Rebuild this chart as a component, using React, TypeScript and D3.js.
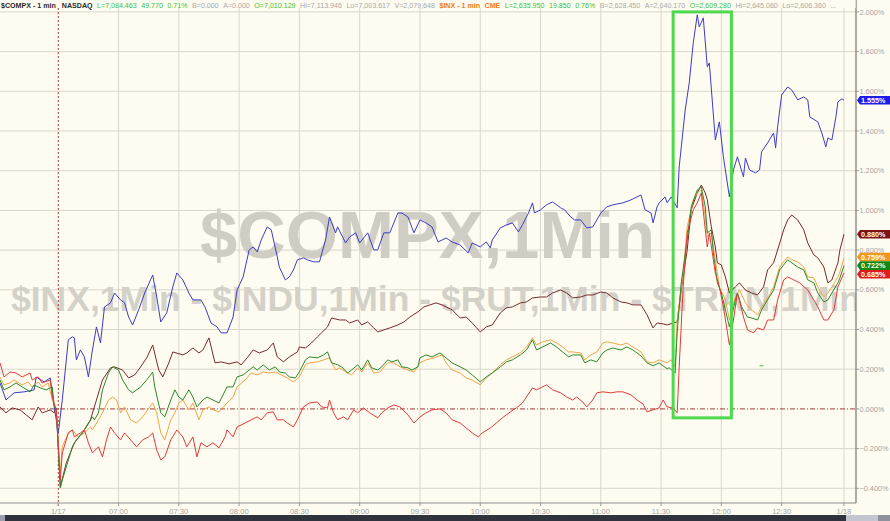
import React from "react";
import * as d3 from "d3";

const W = 890;
const H = 521;

// time in minutes since 06:00
const TIME_TICKS = [30, 60, 90, 120, 150, 180, 210, 240, 270, 300, 330, 360, 390, 421];
const TIME_LABELS = ["1/17", "07:00", "07:30", "08:00", "08:30", "09:00", "09:30", "10:00", "10:30", "11:00", "11:30", "12:00", "12:30", "1/18"];
const Y_TICKS = [-0.4, -0.2, 0, 0.2, 0.4, 0.6, 0.8, 1.0, 1.2, 1.4, 1.6, 1.8, 2.0];

const COMPX: [number, number][] = [[1,0.131],[4,0.045],[8,0.081],[13,0.086],[18,0.096],[19,0.161],[23,0.136],[26,0.156],[28,0.010],[30,-0.121],[32,0.045],[35,0.348],[37,0.363],[38,0.358],[39,0.247],[41,0.297],[43,0.262],[45,0.161],[47,0.297],[49,0.413],[51,0.332],[53,0.514],[56,0.534],[58,0.584],[61,0.549],[63,0.534],[65,0.463],[67,0.423],[70,0.499],[73,0.584],[77,0.675],[79,0.564],[81,0.438],[84,0.484],[87,0.615],[89,0.685],[92,0.650],[95,0.584],[97,0.549],[101,0.549],[103,0.514],[106,0.433],[109,0.413],[111,0.383],[114,0.383],[117,0.463],[119,0.599],[122,0.665],[125,0.801],[127,0.816],[129,0.791],[131,0.851],[134,0.917],[136,0.902],[139,0.766],[140,0.715],[143,0.650],[145,0.665],[147,0.700],[149,0.751],[152,0.761],[154,0.751],[157,0.741],[160,0.741],[163,0.851],[165,0.967],[168,0.887],[169,0.917],[173,0.836],[175,0.866],[178,0.887],[180,0.836],[184,0.887],[187,0.801],[189,0.801],[192,0.887],[195,0.887],[199,0.987],[201,0.987],[204,0.967],[207,0.887],[210,0.952],[213,0.937],[216,0.917],[219,0.841],[223,0.861],[226,0.841],[230,0.826],[234,0.786],[236,0.836],[240,0.816],[243,0.841],[245,0.811],[246,0.851],[250,0.912],[253,0.927],[256,0.937],[259,0.892],[261,0.927],[264,0.987],[266,1.038],[267,0.987],[270,1.003],[273,1.028],[276,1.043],[280,1.013],[282,1.003],[285,0.967],[287,0.952],[290,0.952],[293,0.912],[296,0.917],[300,0.987],[303,1.018],[306,1.028],[311,1.038],[315,1.053],[318,1.068],[320,1.078],[322,1.003],[325,0.987],[326,0.937],[328,1.018],[329,1.038],[332,1.068],[333,1.038],[335,1.068],[338,1.013],[339,1.219],[342,1.506],[344,1.642],[346,1.844],[348,1.985],[349,1.924],[351,1.970],[353,1.723],[354,1.743],[357,1.355],[359,1.446],[361,1.270],[364,1.068],[366,1.204],[368,1.270],[371,1.169],[372,1.264],[374,1.204],[377,1.189],[379,1.204],[380,1.295],[383,1.340],[386,1.390],[387,1.315],[388,1.421],[390,1.582],[393,1.622],[395,1.607],[398,1.557],[401,1.572],[403,1.557],[404,1.471],[408,1.446],[410,1.390],[412,1.320],[413,1.365],[415,1.355],[417,1.471],[418,1.547],[420,1.562],[421,1.555]];

const INDU: [number, number][] = [[1,0.010],[4,-0.020],[7,0.005],[11,-0.005],[14,-0.030],[17,-0.055],[20,0.010],[22,-0.020],[26,-0.005],[28,-0.020],[29,0.005],[31,-0.393],[34,-0.272],[38,-0.171],[42,-0.121],[46,-0.055],[49,0.045],[52,0.146],[56,0.207],[58,0.212],[62,0.196],[65,0.156],[68,0.171],[71,0.212],[74,0.257],[77,0.322],[80,0.196],[82,0.161],[85,0.232],[87,0.287],[92,0.272],[94,0.282],[97,0.307],[100,0.282],[102,0.297],[105,0.358],[108,0.232],[111,0.237],[115,0.227],[119,0.237],[121,0.222],[124,0.257],[127,0.297],[130,0.282],[134,0.297],[137,0.332],[139,0.262],[142,0.237],[145,0.262],[149,0.287],[150,0.312],[153,0.307],[156,0.332],[159,0.363],[161,0.383],[164,0.413],[166,0.458],[170,0.448],[173,0.448],[175,0.433],[179,0.448],[181,0.423],[184,0.438],[187,0.408],[189,0.388],[192,0.398],[195,0.408],[199,0.423],[202,0.438],[205,0.463],[209,0.489],[212,0.514],[215,0.524],[218,0.534],[221,0.524],[226,0.499],[230,0.458],[233,0.463],[236,0.433],[240,0.388],[243,0.413],[246,0.423],[250,0.484],[253,0.509],[256,0.514],[260,0.534],[263,0.539],[266,0.559],[270,0.564],[273,0.564],[276,0.584],[280,0.599],[283,0.584],[286,0.559],[290,0.564],[293,0.574],[296,0.574],[300,0.589],[303,0.584],[306,0.559],[310,0.539],[313,0.534],[316,0.524],[320,0.524],[323,0.474],[326,0.408],[328,0.433],[331,0.428],[333,0.423],[336,0.433],[338,0.438],[340,0.599],[343,0.801],[345,1.003],[348,1.088],[350,1.128],[352,1.088],[353,1.053],[355,0.917],[357,0.816],[358,0.736],[360,0.725],[362,0.665],[364,0.584],[367,0.615],[369,0.635],[372,0.599],[375,0.584],[378,0.574],[381,0.615],[383,0.700],[386,0.736],[388,0.801],[391,0.902],[393,0.952],[395,0.977],[398,0.952],[401,0.902],[403,0.836],[406,0.776],[408,0.761],[411,0.715],[413,0.635],[415,0.650],[418,0.736],[419,0.801],[421,0.880]];

const INX: [number, number][] = [[1,0.161],[3,0.121],[6,0.131],[8,0.146],[12,0.121],[15,0.136],[17,0.111],[20,0.136],[22,0.111],[25,0.131],[27,0.045],[29,-0.005],[31,-0.322],[32,-0.191],[35,-0.121],[37,-0.106],[40,-0.141],[43,-0.121],[46,-0.091],[47,-0.106],[50,-0.055],[52,-0.020],[55,0.045],[57,0.060],[59,0.045],[61,-0.020],[63,0.010],[66,-0.055],[69,-0.071],[72,-0.040],[77,0.030],[79,-0.020],[81,-0.121],[83,-0.156],[86,-0.055],[88,-0.020],[90,0.030],[92,0.045],[95,-0.005],[97,0.030],[100,-0.055],[102,-0.005],[105,0.010],[107,-0.005],[110,-0.015],[114,0.030],[117,0.060],[119,0.111],[123,0.146],[126,0.181],[129,0.171],[132,0.186],[135,0.181],[138,0.186],[141,0.171],[144,0.156],[147,0.136],[150,0.161],[153,0.222],[155,0.232],[159,0.237],[162,0.247],[165,0.257],[168,0.196],[170,0.207],[174,0.181],[176,0.171],[179,0.207],[181,0.186],[184,0.232],[187,0.181],[190,0.186],[194,0.232],[197,0.232],[200,0.212],[204,0.196],[207,0.186],[210,0.232],[213,0.247],[217,0.257],[221,0.272],[223,0.232],[226,0.196],[230,0.181],[233,0.156],[236,0.146],[240,0.121],[243,0.156],[246,0.181],[250,0.222],[253,0.247],[256,0.262],[260,0.282],[263,0.312],[266,0.358],[268,0.322],[271,0.338],[275,0.348],[278,0.332],[281,0.312],[284,0.287],[286,0.287],[290,0.282],[292,0.247],[295,0.272],[298,0.287],[301,0.332],[303,0.338],[306,0.332],[310,0.322],[313,0.332],[316,0.312],[320,0.287],[323,0.237],[326,0.232],[329,0.247],[333,0.232],[335,0.247],[337,0.212],[338,0.448],[341,0.685],[343,0.917],[346,1.053],[348,1.088],[350,1.103],[352,0.967],[353,0.867],[355,0.887],[357,0.751],[359,0.615],[362,0.549],[364,0.448],[367,0.564],[369,0.599],[372,0.534],[375,0.499],[378,0.474],[380,0.514],[383,0.559],[386,0.615],[389,0.715],[393,0.766],[395,0.751],[398,0.741],[401,0.715],[403,0.665],[406,0.660],[408,0.615],[411,0.564],[413,0.584],[415,0.615],[418,0.665],[419,0.690],[421,0.759]];

const RUT: [number, number][] = [[1,0.146],[3,0.096],[6,0.111],[9,0.131],[12,0.111],[16,0.086],[18,0.121],[21,0.106],[24,0.096],[27,0.111],[28,0.010],[29,-0.005],[31,-0.398],[32,-0.358],[34,-0.292],[37,-0.191],[39,-0.156],[42,-0.121],[44,-0.091],[47,-0.040],[48,-0.055],[50,-0.020],[52,0.096],[55,0.181],[57,0.212],[60,0.196],[62,0.146],[65,0.096],[67,0.081],[71,0.111],[74,0.146],[77,0.186],[78,0.111],[81,-0.020],[83,-0.040],[86,0.045],[88,0.096],[90,0.060],[92,0.045],[95,0.096],[97,0.060],[99,0.010],[102,0.045],[104,0.060],[107,0.045],[110,0.030],[114,0.111],[117,0.111],[119,0.161],[122,0.171],[125,0.196],[127,0.212],[129,0.196],[132,0.222],[135,0.196],[138,0.212],[140,0.186],[143,0.181],[145,0.161],[148,0.156],[150,0.186],[153,0.247],[155,0.262],[159,0.257],[162,0.272],[164,0.287],[166,0.232],[169,0.222],[171,0.212],[174,0.181],[176,0.196],[179,0.222],[181,0.196],[184,0.247],[186,0.207],[189,0.196],[191,0.212],[194,0.247],[196,0.237],[199,0.247],[201,0.212],[204,0.207],[206,0.196],[209,0.212],[210,0.257],[213,0.272],[216,0.262],[220,0.282],[223,0.257],[226,0.232],[230,0.212],[233,0.196],[236,0.171],[240,0.136],[243,0.161],[246,0.181],[250,0.212],[253,0.237],[256,0.247],[260,0.272],[263,0.297],[266,0.348],[268,0.297],[271,0.312],[275,0.332],[278,0.312],[281,0.287],[284,0.262],[286,0.272],[290,0.272],[292,0.232],[295,0.247],[298,0.237],[301,0.282],[303,0.297],[306,0.307],[310,0.297],[313,0.312],[316,0.297],[320,0.267],[323,0.232],[326,0.217],[329,0.232],[333,0.202],[334,0.207],[337,0.181],[338,0.383],[340,0.635],[343,0.851],[345,1.018],[348,1.103],[350,1.118],[352,1.018],[353,0.887],[355,0.902],[356,0.786],[358,0.635],[360,0.584],[362,0.499],[364,0.413],[367,0.549],[368,0.584],[370,0.514],[373,0.463],[375,0.458],[378,0.448],[380,0.499],[383,0.549],[386,0.599],[389,0.700],[393,0.751],[395,0.736],[398,0.715],[401,0.700],[403,0.650],[406,0.635],[408,0.584],[411,0.539],[413,0.549],[415,0.584],[418,0.635],[419,0.660],[421,0.722]];

const TRAN: [number, number][] = [[1,0.232],[3,0.161],[6,0.186],[9,0.181],[12,0.161],[16,0.181],[17,0.146],[20,0.161],[22,0.131],[26,0.146],[27,0.060],[29,-0.005],[31,-0.358],[32,-0.222],[35,-0.121],[37,-0.106],[38,-0.141],[41,-0.121],[43,-0.106],[45,-0.171],[47,-0.222],[50,-0.191],[52,-0.242],[54,-0.156],[56,-0.091],[58,-0.121],[61,-0.156],[63,-0.121],[66,-0.156],[69,-0.191],[72,-0.156],[75,-0.141],[77,-0.121],[79,-0.207],[81,-0.257],[83,-0.242],[86,-0.156],[89,-0.106],[92,-0.141],[94,-0.191],[97,-0.141],[99,-0.242],[101,-0.171],[104,-0.191],[107,-0.171],[110,-0.196],[113,-0.141],[114,-0.106],[117,-0.141],[119,-0.091],[123,-0.071],[126,-0.055],[129,-0.040],[131,-0.055],[134,-0.020],[137,-0.015],[139,-0.055],[142,-0.055],[144,-0.071],[147,-0.091],[149,-0.055],[152,0.010],[155,0.030],[159,0.035],[161,0.010],[164,0.005],[165,0.045],[167,-0.020],[169,-0.055],[172,-0.040],[174,-0.055],[177,-0.005],[179,-0.020],[182,0.005],[185,-0.020],[189,-0.045],[191,-0.020],[194,0.005],[197,0.020],[200,0.010],[204,-0.030],[207,-0.071],[210,-0.040],[213,-0.020],[216,-0.005],[220,0.000],[223,-0.020],[226,-0.055],[230,-0.071],[233,-0.096],[236,-0.121],[239,-0.141],[241,-0.121],[245,-0.096],[248,-0.071],[251,-0.045],[255,-0.015],[258,0.005],[261,0.030],[263,0.060],[266,0.106],[268,0.096],[271,0.111],[273,0.121],[276,0.096],[280,0.081],[283,0.060],[286,0.045],[288,0.060],[291,0.035],[293,0.010],[296,0.045],[298,0.081],[301,0.086],[305,0.081],[308,0.086],[311,0.086],[315,0.071],[318,0.045],[321,0.025],[323,-0.015],[326,-0.005],[329,0.005],[331,0.045],[333,0.010],[336,0.005],[338,-0.020],[339,0.212],[341,0.615],[343,0.887],[346,1.003],[348,1.038],[350,1.088],[352,0.902],[353,0.816],[354,0.887],[357,0.685],[359,0.615],[361,0.514],[364,0.322],[366,0.448],[368,0.584],[369,0.549],[371,0.463],[373,0.398],[376,0.383],[378,0.408],[381,0.398],[383,0.448],[386,0.448],[388,0.549],[391,0.650],[393,0.665],[396,0.650],[399,0.635],[403,0.599],[406,0.549],[408,0.514],[411,0.448],[413,0.448],[416,0.499],[418,0.615],[421,0.685]];

const SERIES_DATA = [COMPX, INDU, INX, RUT, TRAN];
const SERIES_LAST = [1.555, 0.880, 0.759, 0.722, 0.685];
const SERIES_LINE_COLORS = ["#3c3cc8", "#7a2a2a", "#f0a444", "#2a8a2a", "#e23a3a"];
const SERIES_TAG_COLORS = ["#1c1ce8", "#7c1414", "#f3961c", "#128a12", "#e01c1c"];

// highlight box: time range and value range
const HIGHLIGHT_T = [336, 365];
const HIGHLIGHT_V = [-0.045, 2.0];
const MARKER: [number, number] = [380, 0.217];

const HEADER_TEXT = ["$COMPX - 1 min", "NASDAQ", "L=7,084.463", "49.770", "0.71%", "B=0.000", "A=0.000", "O=7,010.129", "Hi=7,113.946", "Lo=7,003.617", "V=2,079,648", "$INX - 1 min", "CME", "L=2,635.950", "19.850", "0.76%", "B=2,628.450", "A=2,640.170", "O=2,609.280", "Hi=2,645.060", "Lo=2,606.360", "..."];
const HEADER_KIND = ["t1", "t1", "up", "up", "up", "n", "n", "up", "n", "n", "n", "t2", "t2", "up", "up", "up", "n", "n", "up", "n", "n", "n"];

const KIND_COLOR: Record<string, string> = { t1: "#2a2a2a", t2: "#f07a1a", up: "#3cc23c", n: "#a8a8a8" };

export default function App() {
  const plotRight = 856;
  const plotTop = 8;
  const axisY = 503;

  const x = d3.scaleLinear().domain([1, 427]).range([0, 856]);
  const y = d3.scaleLinear().domain([-0.474, 2.06]).range([503, 0]);

  const line = d3
    .line<[number, number]>()
    .x((d) => x(d[0]))
    .y((d) => y(d[1]));

  // label layout with group centering
  const h = 8.6;
  const items = SERIES_LAST.map((v, i) => ({ i, y0: y(v) })).sort((a, b) => a.y0 - b.y0);
  let groups: { items: typeof items; c: number }[] = items.map((it) => ({ items: [it], c: it.y0 }));
  let changed = true;
  while (changed) {
    changed = false;
    for (let k = 0; k < groups.length - 1; k++) {
      const a = groups[k];
      const b = groups[k + 1];
      if (a.c + (a.items.length * h) / 2 > b.c - (b.items.length * h) / 2) {
        const merged = a.items.concat(b.items);
        const c = d3.mean(merged, (m) => m.y0) as number;
        groups.splice(k, 2, { items: merged, c });
        changed = true;
        break;
      }
    }
  }
  const tagY: number[] = [];
  groups.forEach((g) => {
    g.items.forEach((it, k) => {
      tagY[it.i] = g.c - ((g.items.length - 1) * h) / 2 + k * h;
    });
  });

  const fmt = d3.format(".3f");
  const gridColor = "#d9d7cc";

  return (
    <svg
      width={W}
      height={H}
      style={{ position: "absolute", left: 0, top: 0, background: "#fefcf1", fontFamily: "Liberation Sans, Arial, sans-serif" }}
    >
      <defs>
        <clipPath id="plotclip">
          <rect x={0} y={plotTop} width={plotRight} height={axisY - plotTop} />
        </clipPath>
      </defs>
      <rect x={0} y={0} width={W} height={H} fill="#fefcf1" />

      {/* horizontal grid */}
      {Y_TICKS.map((v) =>
        v === 0 ? null : (
          <line key={"h" + v} x1={0} x2={plotRight} y1={y(v)} y2={y(v)} stroke={gridColor} strokeWidth={1} />
        )
      )}
      {/* vertical grid */}
      {TIME_TICKS.map((t, i) =>
        i === 0 ? null : (
          <line key={"v" + t} x1={x(t)} x2={x(t)} y1={plotTop} y2={axisY} stroke={gridColor} strokeWidth={1} />
        )
      )}

      {/* watermarks */}
      <g clipPath="url(#plotclip)">
        <text x={200} y={258} fontSize={67} fontWeight="bold" fill="#cfcdc4" textLength={455} lengthAdjust="spacingAndGlyphs">
          $COMPX,1Min
        </text>
        <text x={11} y={311} fontSize={35} fontWeight="bold" fill="#d3d1c8" textLength={850} lengthAdjust="spacingAndGlyphs">
          $INX,1Min - $INDU,1Min - $RUT,1Min - $TRAN,1Min
        </text>
      </g>

      {/* zero line and session line */}
      <line x1={0} x2={plotRight} y1={y(0)} y2={y(0)} stroke="#a5383a" strokeWidth={1} strokeDasharray="5,2,1,2" />
      <line x1={x(TIME_TICKS[0])} x2={x(TIME_TICKS[0])} y1={plotTop} y2={axisY + 4} stroke="#b03a3a" strokeWidth={1} strokeDasharray="2,2" />

      {/* series */}
      <g clipPath="url(#plotclip)">
        {SERIES_DATA.map((s, i) => (
          <path key={i} d={line(s) || ""} fill="none" stroke={SERIES_LINE_COLORS[i]} strokeWidth={1} strokeLinejoin="round" />
        ))}
        <line x1={x(MARKER[0]) - 2} x2={x(MARKER[0]) + 2} y1={y(MARKER[1])} y2={y(MARKER[1])} stroke="#3cc23c" strokeWidth={1} />
      </g>

      {/* highlight box */}
      <rect
        x={x(HIGHLIGHT_T[0])}
        y={y(HIGHLIGHT_V[1])}
        width={x(HIGHLIGHT_T[1]) - x(HIGHLIGHT_T[0])}
        height={y(HIGHLIGHT_V[0]) - y(HIGHLIGHT_V[1])}
        fill="none"
        stroke="#4ed94e"
        strokeWidth={3}
      />

      {/* axes */}
      <line x1={plotRight} x2={plotRight} y1={0} y2={axisY} stroke="#5a5a5a" strokeWidth={1} />
      <line x1={0} x2={plotRight} y1={axisY} y2={axisY} stroke="#8a8a8a" strokeWidth={1} />
      {Y_TICKS.map((v) => (
        <g key={"yt" + v}>
          <line x1={plotRight} x2={plotRight + 3} y1={y(v)} y2={y(v)} stroke="#9a9a9a" />
          <text x={plotRight + 3.5} y={y(v) + 2.6} fontSize={7.3} fill="#a3a3a3">
            {fmt(v) + "%"}
          </text>
        </g>
      ))}
      {TIME_TICKS.map((t, i) => (
        <g key={"xt" + t}>
          <line x1={x(t)} x2={x(t)} y1={axisY} y2={axisY + 3} stroke="#9a9a9a" />
          <text x={x(t)} y={axisY + 10.5} fontSize={7.6} fill="#a3a3a3" textAnchor="middle">
            {TIME_LABELS[i]}
          </text>
        </g>
      ))}

      {/* last value tags */}
      {SERIES_LAST.map((v, i) => {
        const cy = tagY[i];
        const x0 = plotRight + 1;
        return (
          <g key={"tag" + i}>
            <path
              d={`M${x0},${cy} L${x0 + 3},${cy - h / 2} L${W},${cy - h / 2} L${W},${cy + h / 2} L${x0 + 3},${cy + h / 2} Z`}
              fill={SERIES_TAG_COLORS[i]}
            />
            <text x={x0 + 4} y={cy + 2.6} fontSize={7.2} fontWeight="bold" fill="#ffffff">
              {fmt(v) + "%"}
            </text>
          </g>
        );
      })}

      {/* header */}
      <rect x={0} y={0} width={plotRight} height={plotTop} fill="#fefcf1" opacity={0.6} />
      <text x={1} y={7.5} fontSize={7.1}>
        {HEADER_TEXT.map((s, i) => (
          <tspan
            key={"hd" + i}
            dx={i === 0 ? 0 : i === 1 ? 6 : 4.5}
            fontWeight={HEADER_KIND[i] === "t1" || HEADER_KIND[i] === "t2" ? "bold" : "normal"}
            fill={KIND_COLOR[HEADER_KIND[i]]}
          >
            {s}
          </tspan>
        ))}
      </text>

      {/* bottom scroll bar */}
      <rect x={0} y={515} width={W} height={6} fill="#2f343c" />
      <rect x={0} y={515} width={5} height={6} fill="#9aa0ae" />
      <rect x={846} y={515} width={32} height={6} fill="#c3c6cf" />
      <rect x={878} y={515} width={12} height={6} fill="#8d919a" />
    </svg>
  );
}
